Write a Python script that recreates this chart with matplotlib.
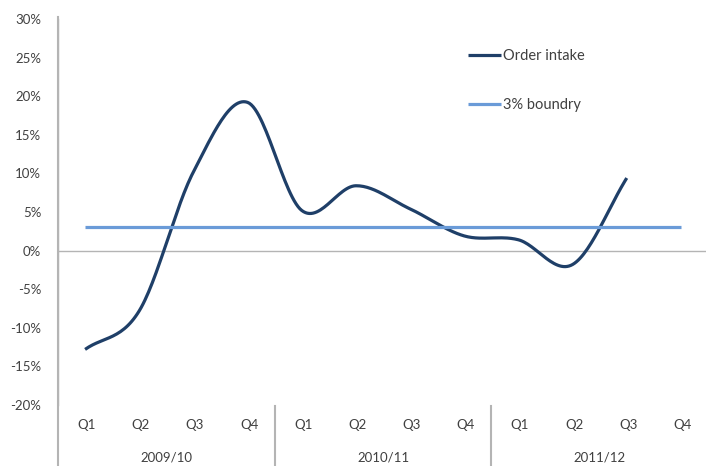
import matplotlib
matplotlib.use("Agg")
import matplotlib.pyplot as plt
import numpy as np

# data (percent)
years = ["2009/10", "2010/11", "2011/12"]
quarters = ["Q1", "Q2", "Q3", "Q4"]
order_intake = [-12.8, -7.8, 10.2, 19.2, 5.2, 8.4, 5.4, 1.9, 1.4, -1.8, 9.4]
boundary = [3.0] * 12
yticks = [-20, -15, -10, -5, 0, 5, 10, 15, 20, 25, 30]

navy = "#1f3f68"
light = "#6a9bd8"
grey = "#b4b4b4"
txt = "#404040"

plt.rcParams["font.family"] = ["Lato", "DejaVu Sans"]


def smooth(y, n=30):
    # Catmull-Rom style smoothing like a spreadsheet "smoothed line"
    y = np.asarray(y, dtype=float)
    x = np.arange(len(y), dtype=float)
    p = np.concatenate([[2 * y[0] - y[1]], y, [2 * y[-1] - y[-2]]])
    xs, ys = [], []
    for i in range(len(y) - 1):
        p0, p1, p2, p3 = p[i], p[i + 1], p[i + 2], p[i + 3]
        c1 = p1 + (p2 - p0) / 6
        c2 = p2 - (p3 - p1) / 6
        t = np.linspace(0, 1, n)
        b = ((1 - t) ** 3 * p1 + 3 * (1 - t) ** 2 * t * c1
             + 3 * (1 - t) * t ** 2 * c2 + t ** 3 * p2)
        xs.append(x[i] + t)
        ys.append(b)
    return np.concatenate(xs), np.concatenate(ys)


fig = plt.figure(figsize=(7.06, 4.66), dpi=100)
ax = fig.add_axes([58 / 706, 61 / 466, 650 / 706, 386 / 466])

sx, sy = smooth(order_intake)
ax.plot(sx, sy, color=navy, lw=2.3, label="Order intake", solid_capstyle="butt")
ax.plot(np.arange(len(boundary)), boundary, color=light, lw=2.3,
        label="3% boundry", solid_capstyle="butt")
ax.axhline(0, color=grey, lw=1, zorder=0)

ax.set_xlim(-0.5, 11.5)
ax.set_ylim(-20, 30)
ax.set_yticks(yticks)
ax.set_yticklabels([f"{v}%" for v in yticks], color=txt, fontsize=9.5)
ax.tick_params(axis="y", length=0, pad=12)
ax.set_xticks([])

for s in ["top", "right", "bottom"]:
    ax.spines[s].set_visible(False)
ax.spines["left"].set_color(grey)
ax.spines["left"].set_linewidth(1)

# category axis below the plot area
tr = ax.get_xaxis_transform()
ax.plot([-0.5, -0.5], [1.005, -0.16], color=grey, lw=1.5, transform=tr, clip_on=False)
for xs in [3.5, 7.5]:
    ax.plot([xs, xs], [-0.003, -0.16], color=grey, lw=1.5, transform=tr, clip_on=False)
for i in range(12):
    ax.text(i + 0.03, -0.052, quarters[i % 4], transform=tr, ha="center", va="center",
            fontsize=9.5, color=txt)
for j, yr in enumerate(years):
    ax.text(4 * j + 1.5, -0.135, yr, transform=tr, ha="center", va="center",
            fontsize=9.5, color=txt)

ax.legend(loc="upper left", bbox_to_anchor=(0.61, 0.955), frameon=False,
          fontsize=10.5, handlelength=2.3, handletextpad=0.1, labelspacing=2.4,
          labelcolor=txt)

fig.savefig("out.png", dpi=100)
